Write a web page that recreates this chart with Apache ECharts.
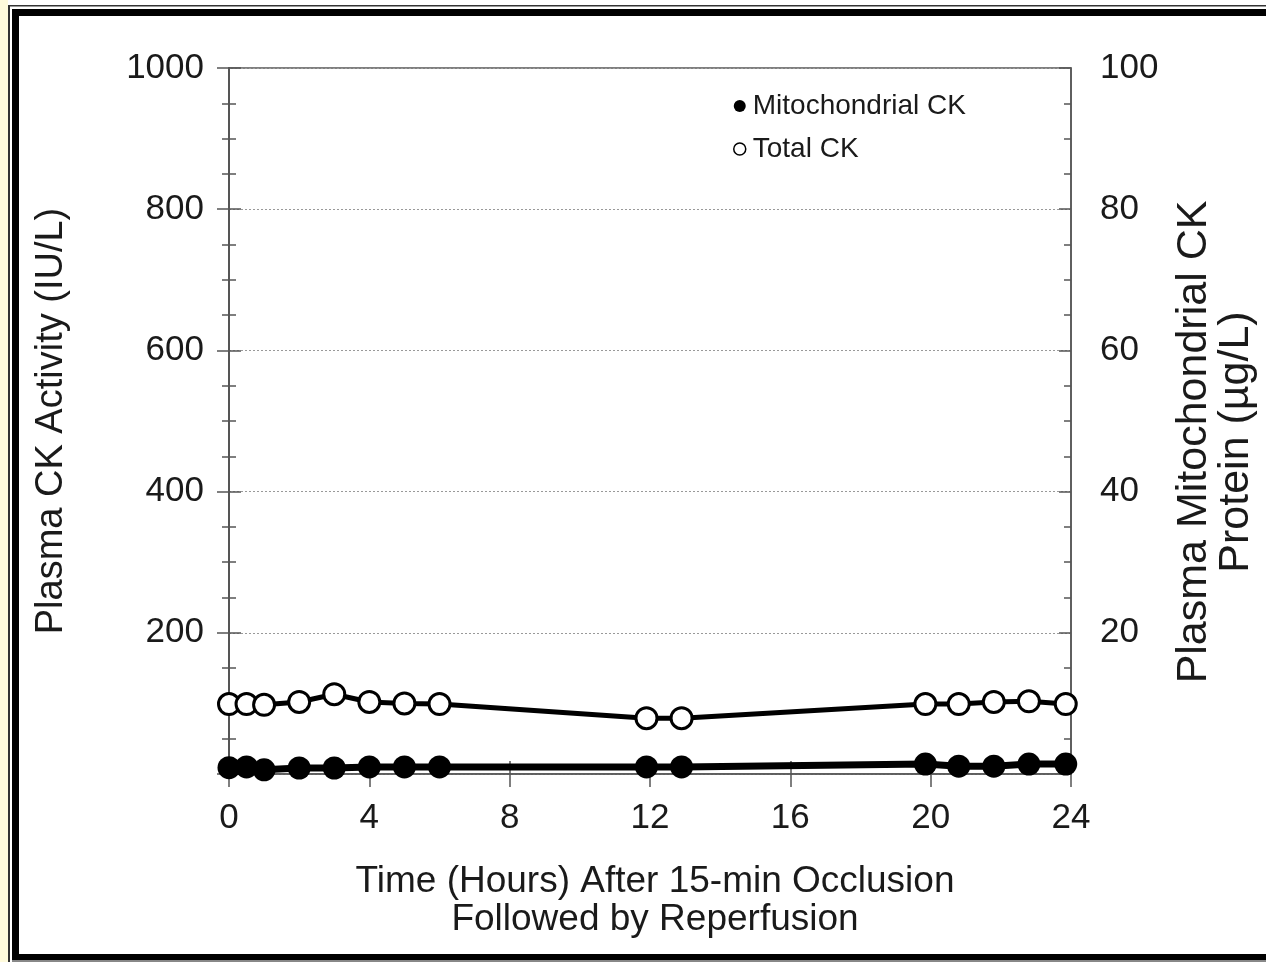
<!DOCTYPE html>
<html>
<head>
<meta charset="utf-8">
<script src="https://cdn.jsdelivr.net/npm/echarts@6/dist/echarts.min.js"></script>
<style>
html,body{margin:0;padding:0;background:#fff;}
#chart{width:1266px;height:962px;}
</style>
</head>
<body>
<div id="chart"></div>
<script>
// hours after occlusion
var times = [0, 0.5, 1, 2, 3, 4, 5, 6, 11.9, 12.9, 19.85, 20.8, 21.8, 22.8, 23.85];
// total CK activity, IU/L (left axis)
var totalCK = [99, 99, 98, 102, 113, 102, 100, 99, 79, 79, 99, 99, 102, 103, 99];
// mitochondrial CK protein, ug/L (right axis)
var mitoCK = [0.9, 1.0, 0.6, 0.85, 0.85, 1.0, 1.0, 1.0, 1.0, 1.0, 1.4, 1.1, 1.1, 1.4, 1.4];
var xTicks = [0, 4, 8, 12, 16, 20, 24];
var leftTicks = [0, 200, 400, 600, 800, 1000];
var rightTicks = [0, 20, 40, 60, 80, 100];

function pairs(xs, ys){ var a=[]; for(var i=0;i<xs.length;i++) a.push([xs[i], ys[i]]); return a; }

var FONT = '"Liberation Sans", Arial, sans-serif';
var TXT = '#1a1a1a';
var AX = '#555';

function yAx(pos, max, ticks, inside, withLabels, name, gap, nameStyle){
    var step = ticks[1]-ticks[0];
    return {
        type:'value', position:pos, min:0, max:max, interval:step,
        axisLine:{show:true, lineStyle:{color:AX, width:1.5}},
        axisTick:{show:true, inside:inside, length:12, lineStyle:{color:AX, width:1.5}},
        minorTick:{show:true, splitNumber:4, length:7, lineStyle:{color:AX, width:1.5}},
        axisLabel:{show:withLabels, margin:pos==='left'?25:29, color:TXT, fontSize:35, fontFamily:FONT,
            formatter:function(v){ return v===0 ? '' : String(v); }},
        splitLine:{show:pos==='left' && !inside, lineStyle:{color:'#999', type:[2,2], width:1}},
        name:name||'', nameLocation:'middle', nameGap:gap||0, nameRotate:90,
        nameTextStyle:nameStyle||{}
    };
}

var chart = echarts.init(document.getElementById('chart'));
chart.setOption({
    backgroundColor:'#fff',
    animation:false,
    grid:{left:229, right:195, top:68, bottom:188, show:true, borderColor:AX, borderWidth:1.5},
    legend:{
        orient:'vertical', left:728, top:86, itemWidth:12, itemHeight:12, itemGap:13,
        textStyle:{color:TXT, fontSize:28, fontFamily:FONT, lineHeight:30, padding:[0,0,0,2]},
        data:[
            {name:'Mitochondrial CK', icon:'circle', itemStyle:{color:'#000', borderWidth:0}},
            {name:'Total CK', icon:'circle', itemStyle:{color:'#fff', borderColor:'#000', borderWidth:1.5}}
        ]
    },
    xAxis:[{
        type:'value', min:xTicks[0], max:xTicks[xTicks.length-1], interval:xTicks[1]-xTicks[0],
        axisLine:{show:true, onZero:false, lineStyle:{color:AX, width:1.5}},
        axisTick:{show:true, length:13, lineStyle:{color:AX, width:1.5}},
        axisLabel:{margin:27, color:TXT, fontSize:35, fontFamily:FONT},
        splitLine:{show:false},
        name:'Time (Hours) After 15-min Occlusion\nFollowed by Reperfusion',
        nameLocation:'middle', nameGap:89,
        nameTextStyle:{color:TXT, fontSize:37, fontFamily:FONT, lineHeight:38, padding:[0,0,0,10]}
    },{
        type:'value', min:xTicks[0], max:xTicks[xTicks.length-1], interval:xTicks[1]-xTicks[0],
        position:'bottom', axisLine:{show:false, onZero:false},
        axisTick:{show:true, inside:true, length:13, lineStyle:{color:AX, width:1.5}},
        axisLabel:{show:false}, splitLine:{show:false}
    }],
    yAxis:[
        yAx('left', 1000, leftTicks, false, true, 'Plasma CK Activity (IU/L)', 158,
            {color:TXT, fontSize:38, fontFamily:FONT}),
        yAx('right', 100, rightTicks, false, true, 'Plasma Mitochondrial CK\nProtein (\u00b5g/L)', 102,
            {color:TXT, fontSize:43, fontFamily:FONT, lineHeight:42, padding:[0,42,0,0]}),
        yAx('left', 1000, leftTicks, true, false),
        yAx('right', 100, rightTicks, true, false)
    ],
    series:[
        {
            name:'Total CK', type:'line', yAxisIndex:0, data:pairs(times, totalCK),
            symbol:'circle', symbolSize:21, clip:false, z:3,
            lineStyle:{color:'#000', width:5},
            itemStyle:{color:'#fff', borderColor:'#000', borderWidth:3}
        },
        {
            name:'Mitochondrial CK', type:'line', yAxisIndex:1, data:pairs(times, mitoCK),
            symbol:'circle', symbolSize:23, clip:false, z:4,
            lineStyle:{color:'#000', width:7},
            itemStyle:{color:'#000', borderColor:'#000', borderWidth:0}
        }
    ],
    graphic:[
        // page frame
        {type:'rect', shape:{x:0, y:0, width:8, height:962}, style:{fill:'#fffbdc'}, silent:true},
        {type:'rect', shape:{x:8, y:5, width:1258, height:1.5}, style:{fill:'#333'}, silent:true},
        {type:'rect', shape:{x:8, y:5, width:2, height:957}, style:{fill:'#333'}, silent:true},
        {type:'rect', shape:{x:12, y:9, width:1254, height:7}, style:{fill:'#000'}, silent:true},
        {type:'rect', shape:{x:12, y:9, width:7, height:953}, style:{fill:'#000'}, silent:true},
        {type:'rect', shape:{x:12, y:954, width:1254, height:6}, style:{fill:'#000'}, silent:true},
        {type:'rect', shape:{x:12, y:960, width:1254, height:2}, style:{fill:'#888'}, silent:true}
    ]
});
</script>
</body>
</html>
